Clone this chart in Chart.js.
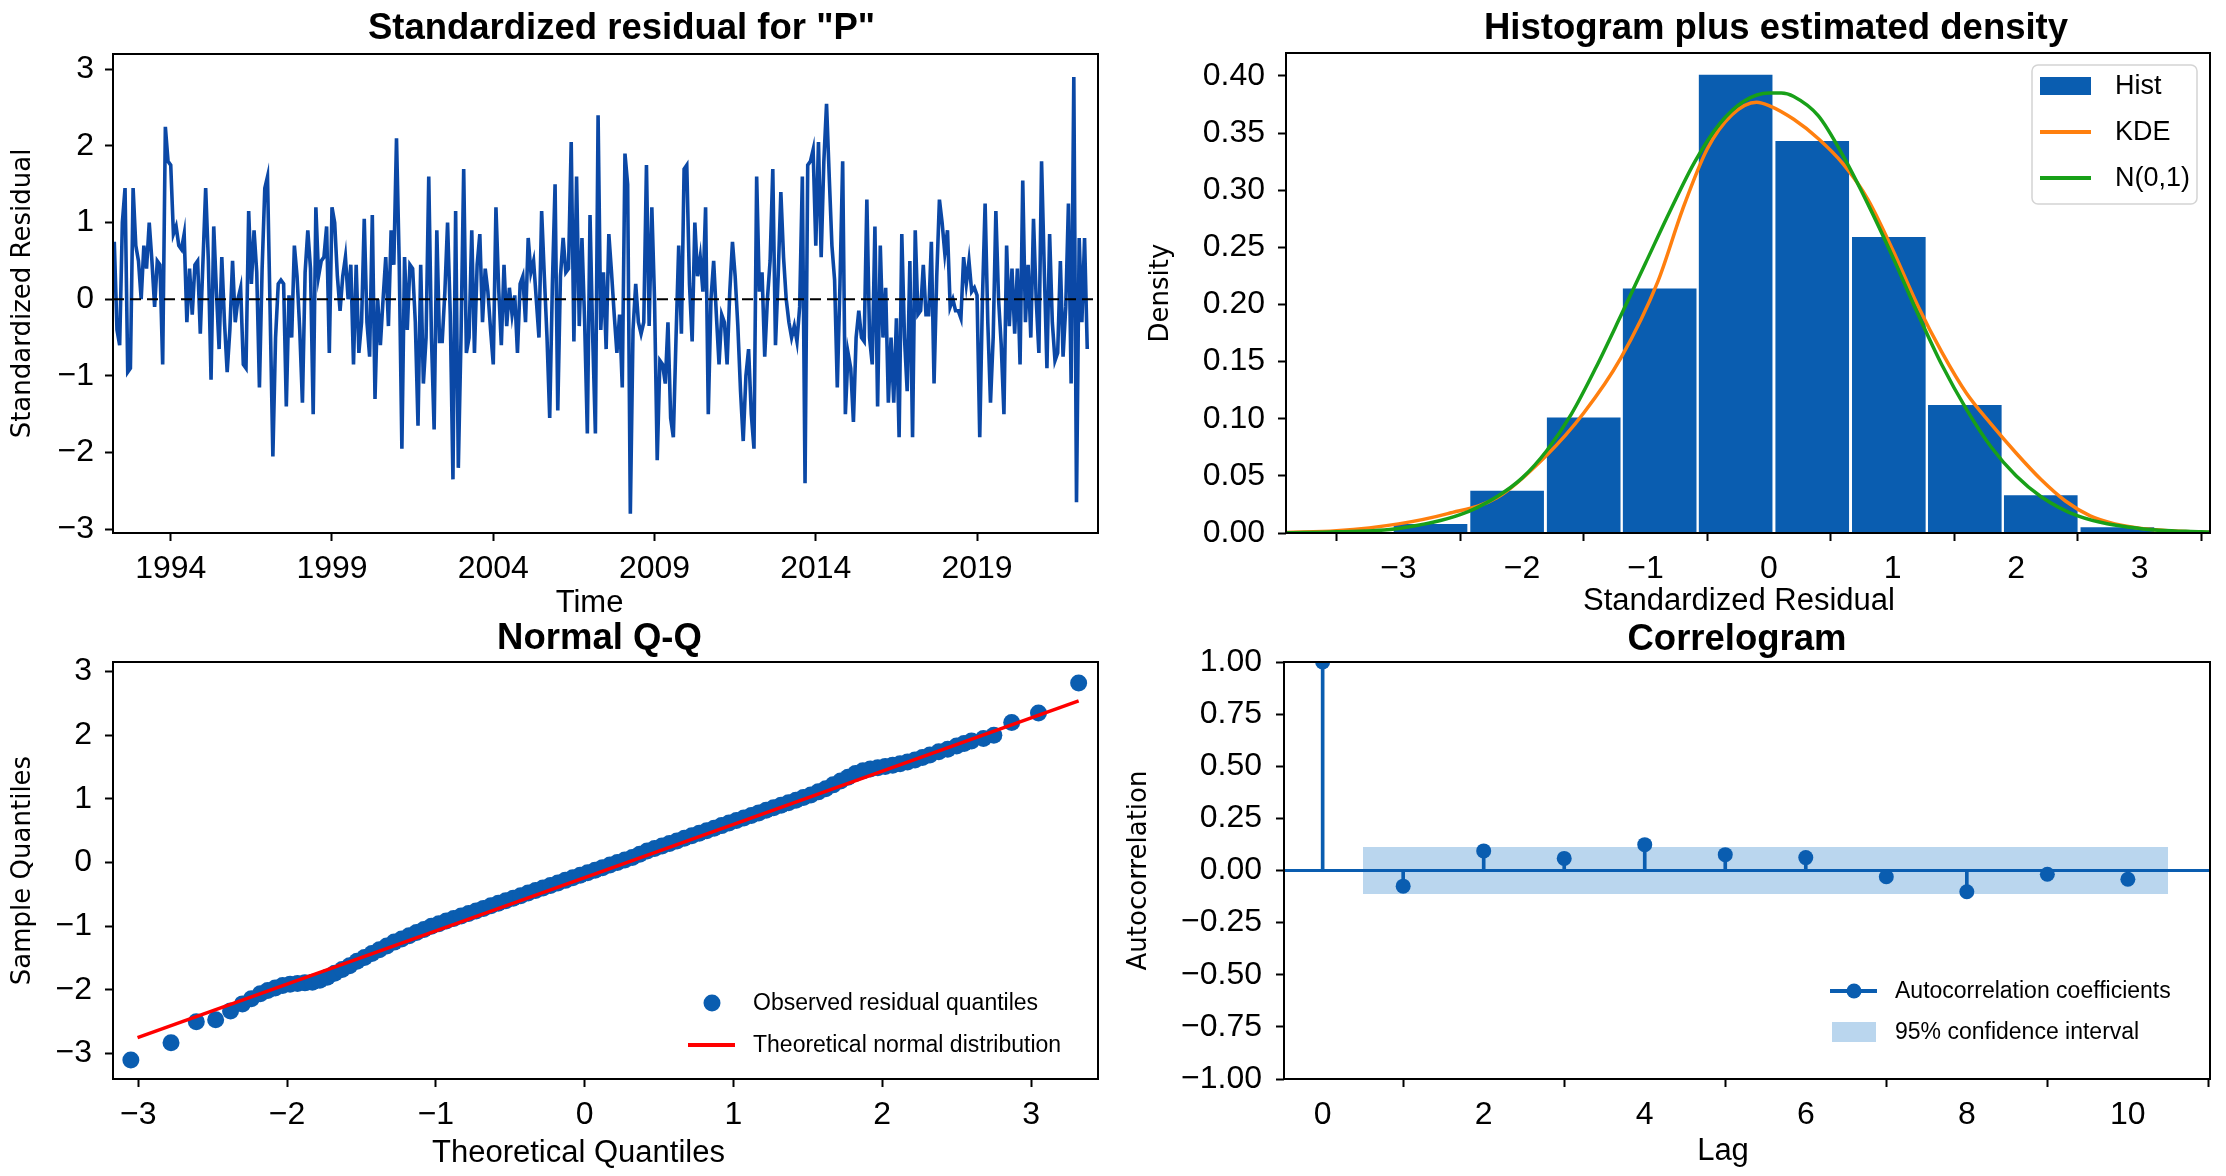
<!DOCTYPE html>
<html>
<head>
<meta charset="utf-8">
<title>Residual diagnostics</title>
<script src="https://cdn.jsdelivr.net/npm/chart.js@4.4.1/dist/chart.umd.min.js"></script>
<style>
  html, body { margin: 0; padding: 0; background: #fff; }
  body { width: 2226px; height: 1176px; position: relative; overflow: hidden; }
  canvas { position: absolute; }
</style>
</head>
<body>
<canvas id="residChart" width="1115" height="620" style="left:0px;top:0px"></canvas>
<canvas id="histChart" width="1111" height="620" style="left:1115px;top:0px"></canvas>
<canvas id="qqChart" width="1115" height="561" style="left:0px;top:615px"></canvas>
<canvas id="acfChart" width="1111" height="561" style="left:1115px;top:615px"></canvas>
<script>
// --- standardized residuals, monthly from spring 1992 ---
const startYear = 1992.25;
const residuals = [
  0.75, -0.4, -0.6, 1.0, 1.45, -0.95, -0.9, 1.45, 0.7, 0.5,
  0.0, 0.7, 0.4, 1.0, 0.5, -0.1, 0.5, 0.45, -0.85, 2.25,
  1.8, 1.75, 0.85, 0.95, 0.7, 0.65, 0.85, -0.3, 0.4, -0.2,
  0.45, 0.5, -0.45, 0.5, 1.45, 0.5, -1.05, 0.95, 0.1, -0.65,
  0.55, -0.3, -0.95, -0.4, 0.5, -0.3, 0.0, 0.15, -0.85, -0.9,
  1.15, 0.2, 0.9, 0.35, -1.15, 0.4, 1.45, 1.6, -0.2, -2.05,
  -0.5, 0.2, 0.25, 0.2, -1.4, 0.05, -0.5, 0.7, 0.3, -0.4,
  -1.35, 0.35, 0.9, 0.4, -1.5, 1.2, 0.3, 0.5, 0.55, 0.95,
  -0.7, 1.2, 1.0, 0.3, -0.15, 0.3, 0.55, 0.0, 0.45, -0.85, 0.45,
  -0.7, -0.3, 1.05, -0.3, -0.75, 1.1, -1.3, 0.0, -0.6, 0.0,
  0.55, -0.35, 0.9, 0.45, 2.1, 0.5, -1.95, 0.55, -0.4, 0.45,
  0.4, -0.3, -1.65, 0.45, -1.1, -0.5, 1.6, -0.5, -1.7, 0.9,
  -0.55, -0.55, 0.1, 1.0, -0.2, -2.35, 1.15, -2.2, -0.5, 1.7,
  -0.7, -0.5, 0.9, -0.7, 0.45, 0.85, -0.3, 0.4, 0.1, -0.4,
  -0.85, 1.2, 0.15, -0.6, 0.45, -0.35, 0.15, -0.2, 0.05, -0.7,
  0.2, 0.3, -0.3, 0.8, 0.35, 0.5, 0.0, -0.5, 1.15, 0.3,
  -0.5, -1.55, 0.2, 1.5, -1.45, 0.3, 0.8, 0.35, 0.4, 2.05,
  -0.55, 1.6, -0.35, 0.8, -0.3, -1.75, 1.1, -0.5, -1.75, 2.4,
  -0.4, 0.35, -0.65, 0.85, 0.35, -0.2, -0.7, -0.2, -1.15, 1.9,
  1.5, -2.8, -0.4, 0.2, -0.3, -0.45, -0.3, 1.75, -0.35, 1.2,
  0.0, -2.1, -0.8, -0.85, -1.1, -0.3, -1.55, -1.8, -0.5, 0.7,
  -0.45, 1.7, 1.75, 0.2, -0.55, 1.0, 0.3, 0.55, 0.1, 1.2,
  -1.5, 0.0, 0.5, -0.2, -0.85, -0.2, -0.3, -0.85, 0.1, 0.75,
  0.3, -0.35, -1.2, -1.85, -1.0, -0.65, -1.5, -1.95, 1.6, 0.1,
  0.35, -0.75, 0.0, 0.5, 1.7, -0.6, 0.3, 1.4, 0.55, 0.0,
  -0.3, -0.5, -0.35, -0.55, -0.1, 1.6, -2.4, 1.75, 1.8, 1.95,
  0.7, 2.05, 0.55, 1.8, 2.55,
  1.6, 0.7, 0.25, -1.15, 0.2, 1.8, -1.5, -0.7, -0.9, -1.6,
  -0.5, -0.15, -0.5, -0.55, 1.3, -0.5, -0.85, 0.95, -1.4, 0.7,
  -0.5, 0.15, -1.35, -0.5, -1.35, -0.25, -1.8, 0.85, -0.5, -1.2,
  0.5, -1.8, 0.9, -0.2, -0.15, 0.45, -0.2, -0.2, 0.75, -1.1,
  0.3, 1.3, 1.0, 0.6, 0.9, -0.1, 0.0, -0.15, -0.15, -0.25,
  0.55, 0.2, 0.5, 0.1, 0.15, 0.05, -1.8, 0.0, 1.25, -0.3,
  -1.35, -0.5, 1.15, 0.0, -0.6, -1.5, 0.7, -0.35, 0.4, -0.45,
  0.4, -0.85, 1.55, -0.3, 0.45, -0.5, 1.05, 0.0, -0.7, 1.8,
  0.4, -0.9, 0.85, -0.3, -0.8, -0.7, 0.5, -0.75, -0.1, 1.25,
  -1.1, 2.9, -2.65, 0.8, -0.3, 0.8, -0.65
];
const residYearTicks = [1994, 1999, 2004, 2009, 2014, 2019];
const residYTicks = [-3, -2, -1, 0, 1, 2, 3];

// --- histogram + densities ---
const histBinCenters = [-2.74, -2.12, -1.50, -0.885, -0.27, 0.35, 0.97, 1.585, 2.20, 2.82];
const histDensity = [0.009, 0.038, 0.102, 0.215, 0.402, 0.344, 0.260, 0.113, 0.034, 0.006];
const kdeX = [-3.91, -3.5, -3.0, -2.6, -2.2, -1.8, -1.5, -1.2, -0.9, -0.7, -0.5, -0.3, -0.1, 0.0,
  0.2, 0.4, 0.6, 0.8, 1.0, 1.2, 1.4, 1.6, 1.8, 2.0, 2.2, 2.4, 2.6, 2.8, 3.1, 3.57];
const kdeY = [0.0005, 0.002, 0.008, 0.017, 0.031, 0.068, 0.105, 0.153, 0.220, 0.283, 0.336, 0.366, 0.377, 0.374,
  0.362, 0.345, 0.323, 0.292, 0.248, 0.200, 0.158, 0.122, 0.095, 0.070, 0.047, 0.028, 0.015, 0.008, 0.003, 0.0005];
const normX = [-3.91, -3.5, -3.0, -2.5, -2.2, -2.0, -1.8, -1.6, -1.4, -1.2, -1.0, -0.8, -0.6, -0.4, -0.2, 0.0,
  0.1, 0.2, 0.4, 0.6, 0.8, 1.0, 1.2, 1.4, 1.6, 1.8, 2.0, 2.2, 2.5, 3.0, 3.5, 3.57];
const normY = [0.0002, 0.001, 0.004, 0.016, 0.032, 0.048, 0.072, 0.104, 0.145, 0.190, 0.236, 0.282, 0.325, 0.358, 0.378, 0.385,
  0.385, 0.382, 0.365, 0.330, 0.288, 0.242, 0.193, 0.147, 0.108, 0.075, 0.050, 0.032, 0.015, 0.004, 0.001, 0.0008];
const histXTicks = [-3, -2, -1, 0, 1, 2, 3];
const histYTicks = [0, 0.05, 0.10, 0.15, 0.20, 0.25, 0.30, 0.35, 0.40];

// --- normal Q-Q ---
const qqTheoretical = [
  -3.05, -2.78, -2.61, -2.48, -2.38, -2.30, -2.24, -2.18, -2.13, -2.08, -2.03, -1.98, -1.93, -1.88, -1.83,
  -1.78, -1.73, -1.68, -1.63, -1.58, -1.53, -1.48, -1.43, -1.38, -1.33, -1.28, -1.23, -1.18, -1.13, -1.08,
  -1.03, -0.98, -0.93, -0.88, -0.83, -0.78, -0.73, -0.68, -0.63, -0.58, -0.53, -0.48, -0.43, -0.38, -0.33,
  -0.28, -0.23, -0.18, -0.13, -0.08, -0.03, 0.02, 0.07, 0.12, 0.17, 0.22, 0.27, 0.32, 0.37, 0.42,
  0.47, 0.52, 0.57, 0.62, 0.67, 0.72, 0.77, 0.82, 0.87, 0.92, 0.97, 1.02, 1.07, 1.12, 1.17,
  1.22, 1.27, 1.32, 1.37, 1.42, 1.47, 1.52, 1.57, 1.62, 1.67, 1.72, 1.77, 1.82, 1.87, 1.92,
  1.97, 2.02, 2.07, 2.12, 2.17, 2.22, 2.27, 2.32, 2.38, 2.44, 2.50, 2.55, 2.60, 2.68, 2.75,
  2.87, 3.05, 3.32
];
const qqSample = [
  -3.10, -2.83, -2.50, -2.47, -2.33, -2.22, -2.14, -2.06, -2.01, -1.97, -1.93, -1.91, -1.90, -1.89, -1.88,
  -1.85, -1.80, -1.74, -1.68, -1.62, -1.55, -1.49, -1.43, -1.37, -1.31, -1.25, -1.20, -1.15, -1.10, -1.05,
  -1.00, -0.96, -0.92, -0.88, -0.84, -0.80, -0.76, -0.72, -0.68, -0.64, -0.60, -0.56, -0.52, -0.48, -0.44,
  -0.40, -0.36, -0.32, -0.28, -0.24, -0.20, -0.16, -0.12, -0.08, -0.04, 0.00, 0.04, 0.08, 0.13, 0.18,
  0.22, 0.26, 0.30, 0.34, 0.38, 0.42, 0.46, 0.50, 0.54, 0.58, 0.62, 0.66, 0.70, 0.74, 0.78,
  0.82, 0.86, 0.90, 0.94, 0.98, 1.02, 1.06, 1.11, 1.16, 1.22, 1.28, 1.34, 1.40, 1.44, 1.47,
  1.49, 1.51, 1.53, 1.55, 1.58, 1.61, 1.65, 1.69, 1.74, 1.78, 1.83, 1.87, 1.91, 1.95, 2.00,
  2.20, 2.35, 2.82
];
const qqLineX = [-3.005, 3.32];
const qqLineY = [-2.75, 2.54];
const qqTicks = [-3, -2, -1, 0, 1, 2, 3];

// --- correlogram ---
const acfLags = [0, 1, 2, 3, 4, 5, 6, 7, 8, 9, 10];
const acfValues = [1.0, -0.075, 0.094, 0.058, 0.124, 0.076, 0.062, -0.030, -0.102, -0.018, -0.042];
const confLimit = 0.113;
const confSpan = [0.5, 10.5];
const acfXTicks = [0, 2, 4, 6, 8, 10];
const acfYTicks = [-1, -0.75, -0.5, -0.25, 0, 0.25, 0.5, 0.75, 1];

// ---------------------------------------------------------------
const FONT = "'Liberation Sans', Arial, sans-serif";
const YFONT = "'DejaVu Sans', sans-serif";
const BAR_BLUE = '#0a5db0';
const LINE_BLUE = '#0b48a6';

Chart.defaults.font.family = FONT;
Chart.defaults.color = '#000';

function num(v, digits) {
  const s = digits ? Math.abs(v).toFixed(digits) : String(Math.abs(v));
  return (v < -1e-9 ? '\u2212' : '') + s;
}

function axis(o) {
  const sc = {
    type: 'linear', position: o.pos, min: o.min, max: o.max, offset: false,
    afterFit: s => { if (o.pos === 'bottom') s.height = o.size; else s.width = o.size; },
    afterBuildTicks: s => { s.ticks = o.ticks.map(v => ({ value: v })); },
    ticks: { autoSkip: false, maxRotation: 0, padding: o.tickPad, color: '#000',
             font: { family: FONT, size: 32 }, callback: v => o.fmt(v) },
    grid: { drawOnChartArea: false, drawTicks: true, tickLength: 8, tickWidth: 2,
            tickColor: '#000', color: 'rgba(0,0,0,0)' },
    border: { display: false },
    title: { display: false }
  };
  if (o.pos === 'left') {
    sc.title = { display: true, text: o.title, color: '#000',
                 font: { family: YFONT, size: 26 }, padding: { top: o.titlePad, bottom: 0 } };
  }
  return sc;
}

const framePlugin = {
  id: 'panelFrame',
  afterDatasetsDraw(chart) {
    const { ctx, chartArea: a } = chart;
    ctx.save();
    ctx.strokeStyle = '#000';
    ctx.lineWidth = 2;
    ctx.strokeRect(a.left, a.top, a.right - a.left, a.bottom - a.top);
    ctx.restore();
  }
};

// panel title above the plot and x-axis label below it
const textPlugin = {
  id: 'panelText',
  afterDraw(chart, args, opts) {
    const { ctx, chartArea: a } = chart;
    const cx = (a.left + a.right) / 2;
    ctx.save();
    ctx.fillStyle = '#000';
    ctx.textAlign = 'center';
    ctx.textBaseline = 'middle';
    ctx.font = 'bold 36.5px ' + FONT;
    ctx.fillText(opts.title, cx + opts.titleDx, a.top - opts.titleDy);
    ctx.font = '31px ' + FONT;
    ctx.fillText(opts.xLabel, cx + opts.xLabelDx, a.bottom + opts.xLabelDy);
    ctx.restore();
  }
};
Chart.register(framePlugin, textPlugin);

function baseOptions(area, W, H) {
  return {
    responsive: false,
    animation: false,
    layout: { padding: { top: area.top, right: W - area.right, bottom: 0, left: 0 } },
    plugins: { legend: { display: false }, tooltip: { enabled: false } }
  };
}

// ---- 1. standardized residual time series ----
(function () {
  const W = 1115, H = 620;
  const area = { left: 113, top: 54, right: 1098, bottom: 533 };
  const xMin = 1992.21, xMax = 2022.75;
  const opts = baseOptions(area, W, H);
  opts.plugins.panelText = { title: 'Standardized residual for "P"', titleDx: 16, titleDy: 25,
                             xLabel: 'Time', xLabelDx: -16, xLabelDy: 70 };
  opts.scales = {
    x: axis({ pos: 'bottom', min: xMin, max: xMax, size: H - area.bottom, ticks: residYearTicks,
              fmt: v => String(v), tickPad: 9 }),
    y: axis({ pos: 'left', min: -3.05, max: 3.2, size: area.left, ticks: residYTicks,
              fmt: v => num(v), tickPad: 11, title: 'Standardized Residual', titlePad: 8 })
  };
  new Chart(document.getElementById('residChart'), {
    type: 'line',
    data: {
      datasets: [
        { data: [{ x: xMin, y: 0 }, { x: xMax, y: 0 }], borderColor: '#000', borderWidth: 2,
          borderDash: [11, 6], pointRadius: 0, order: 0 },
        { data: residuals.map((v, i) => ({ x: startYear + i / 12, y: v })), borderColor: LINE_BLUE,
          borderWidth: 3.6, pointRadius: 0, tension: 0, order: 1 }
      ]
    },
    options: opts
  });
})();

// ---- 2. histogram plus estimated density ----
(function () {
  const W = 1111, H = 620;
  const area = { left: 171, top: 53, right: 1095, bottom: 533 };
  const opts = baseOptions(area, W, H);
  opts.plugins.panelText = { title: 'Histogram plus estimated density', titleDx: 28, titleDy: 24,
                             xLabel: 'Standardized Residual', xLabelDx: -9, xLabelDy: 68 };
  opts.scales = {
    x: axis({ pos: 'bottom', min: -3.91, max: 3.57, size: H - area.bottom, ticks: histXTicks,
              fmt: v => num(v), tickPad: 9 }),
    y: axis({ pos: 'left', min: 0, max: 0.42, size: area.left, ticks: histYTicks,
              fmt: v => v.toFixed(2), tickPad: 13, title: 'Density', titlePad: 31 })
  };
  const histLegend = {
    id: 'histLegend',
    afterDraw(chart) {
      const { ctx, chartArea: a } = chart;
      const x0 = a.right - 178, y0 = a.top + 12, w = 165, h = 139;
      ctx.save();
      ctx.fillStyle = 'rgba(255,255,255,0.85)';
      ctx.strokeStyle = '#d4d4d4';
      ctx.lineWidth = 1.5;
      ctx.beginPath();
      ctx.roundRect(x0, y0, w, h, 6);
      ctx.fill();
      ctx.stroke();
      const rows = [
        { label: 'Hist', kind: 'box', color: BAR_BLUE },
        { label: 'KDE', kind: 'line', color: '#ff7f0e' },
        { label: 'N(0,1)', kind: 'line', color: '#18a018' }
      ];
      ctx.font = '27px ' + FONT;
      ctx.textBaseline = 'middle';
      ctx.textAlign = 'left';
      rows.forEach((r, i) => {
        const cy = y0 + 21 + i * 46;
        if (r.kind === 'box') {
          ctx.fillStyle = r.color;
          ctx.fillRect(x0 + 8, cy - 9, 51, 18);
        } else {
          ctx.strokeStyle = r.color;
          ctx.lineWidth = 4;
          ctx.beginPath();
          ctx.moveTo(x0 + 8, cy);
          ctx.lineTo(x0 + 59, cy);
          ctx.stroke();
        }
        ctx.fillStyle = '#000';
        ctx.fillText(r.label, x0 + 83, cy + 1);
      });
      ctx.restore();
    }
  };
  new Chart(document.getElementById('histChart'), {
    type: 'bar',
    data: {
      datasets: [
        { type: 'line', label: 'N(0,1)', data: normX.map((x, i) => ({ x, y: normY[i] })),
          borderColor: '#18a018', borderWidth: 3.5, pointRadius: 0, cubicInterpolationMode: 'monotone', order: 0 },
        { type: 'line', label: 'KDE', data: kdeX.map((x, i) => ({ x, y: kdeY[i] })),
          borderColor: '#ff7f0e', borderWidth: 3.5, pointRadius: 0, cubicInterpolationMode: 'monotone', order: 1 },
        { type: 'bar', label: 'Hist', data: histBinCenters.map((x, i) => ({ x, y: histDensity[i] })),
          backgroundColor: BAR_BLUE, borderColor: '#ffffff', borderWidth: 1.5, borderSkipped: 'bottom',
          barPercentage: 1, categoryPercentage: 1, order: 2 }
      ]
    },
    options: opts,
    plugins: [histLegend]
  });
})();

// ---- 3. normal Q-Q ----
(function () {
  const W = 1115, H = 561;
  const area = { left: 113, top: 47, right: 1098, bottom: 464 };
  const opts = baseOptions(area, W, H);
  opts.plugins.panelText = { title: 'Normal Q-Q', titleDx: -6, titleDy: 23,
                             xLabel: 'Theoretical Quantiles', xLabelDx: -27, xLabelDy: 74 };
  opts.scales = {
    x: axis({ pos: 'bottom', min: -3.17, max: 3.45, size: H - area.bottom, ticks: qqTicks,
              fmt: v => num(v), tickPad: 9 }),
    y: axis({ pos: 'left', min: -3.4, max: 3.15, size: area.left, ticks: qqTicks,
              fmt: v => num(v), tickPad: 13, title: 'Sample Quantiles', titlePad: 8 })
  };
  const qqLegend = {
    id: 'qqLegend',
    afterDraw(chart) {
      const { ctx, chartArea: a } = chart;
      ctx.save();
      ctx.fillStyle = BAR_BLUE;
      ctx.beginPath();
      ctx.arc(a.right - 386, a.bottom - 76, 8.5, 0, Math.PI * 2);
      ctx.fill();
      ctx.strokeStyle = '#ff0000';
      ctx.lineWidth = 4;
      ctx.beginPath();
      ctx.moveTo(a.right - 410, a.bottom - 34);
      ctx.lineTo(a.right - 363, a.bottom - 34);
      ctx.stroke();
      ctx.fillStyle = '#000';
      ctx.font = '23px ' + FONT;
      ctx.textBaseline = 'middle';
      ctx.fillText('Observed residual quantiles', a.right - 345, a.bottom - 75);
      ctx.fillText('Theoretical normal distribution', a.right - 345, a.bottom - 33);
      ctx.restore();
    }
  };
  new Chart(document.getElementById('qqChart'), {
    type: 'scatter',
    data: {
      datasets: [
        { type: 'line', label: 'Theoretical normal distribution',
          data: qqLineX.map((x, i) => ({ x, y: qqLineY[i] })), borderColor: '#ff0000',
          borderWidth: 3.5, pointRadius: 0, order: 0 },
        { label: 'Observed residual quantiles',
          data: qqTheoretical.map((x, i) => ({ x, y: qqSample[i] })), backgroundColor: BAR_BLUE,
          borderWidth: 0, pointRadius: 8.5, order: 1 }
      ]
    },
    options: opts,
    plugins: [qqLegend]
  });
})();

// ---- 4. correlogram ----
(function () {
  const W = 1111, H = 561;
  const area = { left: 169, top: 47, right: 1095, bottom: 464 };
  const xMin = -0.48, xMax = 11.02;
  const opts = baseOptions(area, W, H);
  opts.plugins.panelText = { title: 'Correlogram', titleDx: -10, titleDy: 22,
                             xLabel: 'Lag', xLabelDx: -24, xLabelDy: 72 };
  opts.scales = {
    x: axis({ pos: 'bottom', min: xMin, max: xMax, size: H - area.bottom, ticks: acfXTicks,
              fmt: v => String(v), tickPad: 9 }),
    y: axis({ pos: 'left', min: -1, max: 1, size: area.left, ticks: acfYTicks,
              fmt: v => num(v, 2), tickPad: 14, title: 'Autocorrelation', titlePad: 9 })
  };
  const acfLegend = {
    id: 'acfLegend',
    afterDraw(chart) {
      const { ctx, chartArea: a } = chart;
      const y1 = a.bottom - 88, y2 = a.bottom - 47;
      ctx.save();
      ctx.strokeStyle = BAR_BLUE;
      ctx.lineWidth = 4;
      ctx.beginPath();
      ctx.moveTo(a.right - 380, y1);
      ctx.lineTo(a.right - 333, y1);
      ctx.stroke();
      ctx.fillStyle = BAR_BLUE;
      ctx.beginPath();
      ctx.arc(a.right - 356, y1, 7.5, 0, Math.PI * 2);
      ctx.fill();
      ctx.fillStyle = '#bad6ee';
      ctx.fillRect(a.right - 378, y2 - 10, 44, 20);
      ctx.fillStyle = '#000';
      ctx.font = '23px ' + FONT;
      ctx.textBaseline = 'middle';
      ctx.fillText('Autocorrelation coefficients', a.right - 315, y1 + 1);
      ctx.fillText('95% confidence interval', a.right - 315, y2 + 1);
      ctx.restore();
    }
  };
  new Chart(document.getElementById('acfChart'), {
    type: 'scatter',
    data: {
      datasets: [
        { label: 'Autocorrelation coefficients', data: acfLags.map((x, i) => ({ x, y: acfValues[i] })),
          backgroundColor: BAR_BLUE, borderWidth: 0, pointRadius: 7.5, clip: 0, order: 0 },
        { type: 'bar', data: acfLags.map((x, i) => ({ x, y: acfValues[i] })), backgroundColor: BAR_BLUE,
          barThickness: 3, order: 1 },
        { type: 'line', data: [{ x: xMin, y: 0 }, { x: xMax, y: 0 }], borderColor: BAR_BLUE,
          borderWidth: 3, pointRadius: 0, order: 2 },
        { type: 'line', label: '95% confidence interval',
          data: confSpan.map(x => ({ x, y: confLimit })), borderWidth: 0, pointRadius: 0,
          backgroundColor: '#bad6ee', fill: '+1', order: 3 },
        { type: 'line', data: confSpan.map(x => ({ x, y: -confLimit })), borderWidth: 0, pointRadius: 0,
          fill: false, order: 4 }
      ]
    },
    options: opts,
    plugins: [acfLegend]
  });
})();
</script>
</body>
</html>
